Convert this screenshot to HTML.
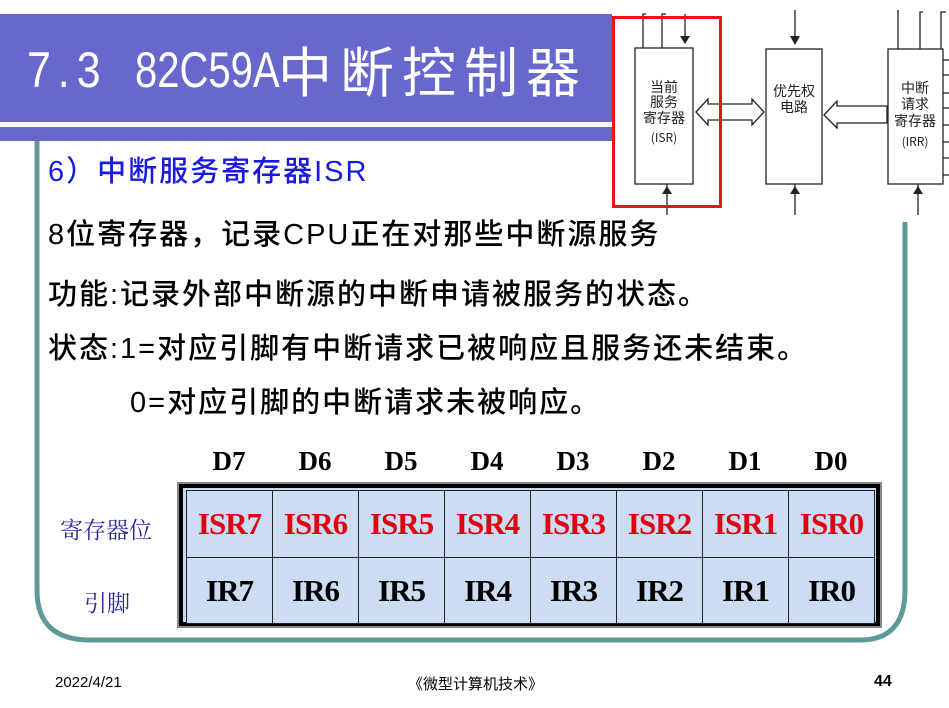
<!DOCTYPE html>
<html><head><meta charset="utf-8"><style>
body{margin:0;width:949px;height:708px;background:#fff;position:relative;overflow:hidden;font-family:"Liberation Sans","Noto Sans CJK SC",sans-serif}
.a{position:absolute;white-space:nowrap}
.t{font-family:"Liberation Sans","Noto Sans CJK SC",sans-serif;font-size:29px;color:#000;letter-spacing:2px;line-height:1;font-weight:500}
td{border:1px solid #222;width:85px;text-align:center;font-family:"Liberation Serif",serif;font-weight:bold;font-size:31px;letter-spacing:-1px;padding:0}
</style></head><body>
<div class="a" style="left:0;top:14px;width:612px;height:108px;background:#6868cc"></div>
<div class="a" style="left:0;top:127px;width:612px;height:14px;background:#6868cc"></div>
<div class="a" style="left:27px;top:40px;color:#fff;font-family:'Liberation Sans',sans-serif;font-size:50px;line-height:60px;letter-spacing:8px;transform:scaleX(0.86);transform-origin:0 0">7.3</div>
<div class="a" style="left:135px;top:40px;color:#fff;font-family:'Liberation Sans',sans-serif;font-size:50px;line-height:60px;transform:scaleX(0.8);transform-origin:0 0">82C59A</div>
<div class="a" style="left:278px;top:36px;color:#fff;font-family:'Noto Sans CJK SC',sans-serif;font-size:54px;line-height:66px;letter-spacing:8px">中断控制器</div>
<svg class="a" style="left:0;top:0" width="949" height="708">
<path d="M37 141 V590 Q37 640 90 640 H860 Q905 640 905 590 V222" fill="none" stroke="#5f9a98" stroke-width="5"/>
</svg>
<div class="a" style="left:48px;top:156px;color:#1a1ae0;font-size:29px;letter-spacing:2px;line-height:32px;font-weight:500">6）中断服务寄存器ISR</div>
<div class="a t" style="left:48px;top:221px">8位寄存器，记录CPU正在对那些中断源服务</div>
<div class="a t" style="left:48px;top:281px">功能:记录外部中断源的中断申请被服务的状态。</div>
<div class="a t" style="left:48px;top:335px">状态:1=对应引脚有中断请求已被响应且服务还未结束。</div>
<div class="a t" style="left:130px;top:389px">0=对应引脚的中断请求未被响应。</div>
<div class="a" style="left:186px;top:446px;width:688px;display:flex;font-family:'Liberation Serif',serif;font-weight:bold;font-size:27px">
<span style="width:86px;text-align:center">D7</span><span style="width:86px;text-align:center">D6</span><span style="width:86px;text-align:center">D5</span><span style="width:86px;text-align:center">D4</span><span style="width:86px;text-align:center">D3</span><span style="width:86px;text-align:center">D2</span><span style="width:86px;text-align:center">D1</span><span style="width:86px;text-align:center">D0</span></div>
<div class="a" style="left:60px;top:512px;color:#2a2a9a;font-family:'Noto Serif CJK SC',serif;font-size:23px">寄存器位</div>
<div class="a" style="left:84px;top:585px;color:#2a2a9a;font-family:'Noto Serif CJK SC',serif;font-size:23px">引脚</div>
<div class="a" style="left:177px;top:482px;width:705px;height:146px;background:#888"></div>
<div class="a" style="left:179px;top:484px;width:701px;height:142px;background:#000"></div>
<div class="a" style="left:183px;top:488px;width:693px;height:134px;background:#c9d9f1"></div>
<table class="a" style="left:186px;top:490px;border-collapse:collapse;background:#cbdcf3">
<tr style="height:67px;color:#e00010"><td>ISR7</td><td>ISR6</td><td>ISR5</td><td>ISR4</td><td>ISR3</td><td>ISR2</td><td>ISR1</td><td>ISR0</td></tr>
<tr style="height:66px;color:#000"><td>IR7</td><td>IR6</td><td>IR5</td><td>IR4</td><td>IR3</td><td>IR2</td><td>IR1</td><td>IR0</td></tr>
</table>
<div class="a" style="left:55px;top:674px;font-size:15px">2022/4/21</div>
<div class="a" style="left:408px;top:673px;font-size:15px;font-family:'Noto Sans CJK SC',sans-serif">《微型计算机技术》</div>
<div class="a" style="left:874px;top:673px;font-size:16px;font-weight:bold">44</div>
<svg class="a" style="left:600px;top:0" width="349" height="230" font-family="Noto Sans CJK SC,sans-serif" font-size="14">
<g fill="none" stroke="#222" stroke-width="1.3">
<rect x="35" y="48" width="58" height="136"/>
<rect x="166" y="49" width="56" height="135"/>
<rect x="288" y="49" width="55" height="135"/>
<path d="M43 48 V14 H46 M62 48 V14 H66 M85 14 V40"/>
<path d="M67 184 V215 M195 10 V40 M195 184 V215 M318 184 V215"/>
<path d="M298 49 V10 M320 49 V12 H323 M341 49 V12 H346"/>
<path d="M343 60 H349 M343 75 H349 M343 93 H349 M343 108 H349 M343 125 H349 M343 142 H349 M343 158 H349 M343 175 H349"/>
<path d="M96 112 L108 99 V104 H152 V99 L164 112 L152 125 V120 H108 V125 Z"/>
<path d="M224 115 L237 101 V106 H287 V123 H237 V128 Z"/>
</g>
<g fill="#222">
<path d="M80 36 H90 L85 44 Z M190 36 H200 L195 45 Z M62 194 L67 186 L72 194 Z M190 194 L195 186 L200 194 Z M313 194 L318 186 L323 194 Z"/>
</g>
<g fill="#222" text-anchor="middle">
<text x="64" y="92">当前</text><text x="64" y="107">服务</text><text x="64" y="123">寄存器</text><text x="64" y="142" font-size="12">(ISR)</text>
<text x="194" y="96">优先权</text><text x="194" y="112">电路</text>
<text x="315" y="93">中断</text><text x="315" y="109">请求</text><text x="315" y="126">寄存器</text><text x="315" y="146" font-size="12">(IRR)</text>
</g>
<rect x="13.5" y="17.5" width="107" height="189" fill="none" stroke="#e8141c" stroke-width="3"/>
</svg>
</body></html>
